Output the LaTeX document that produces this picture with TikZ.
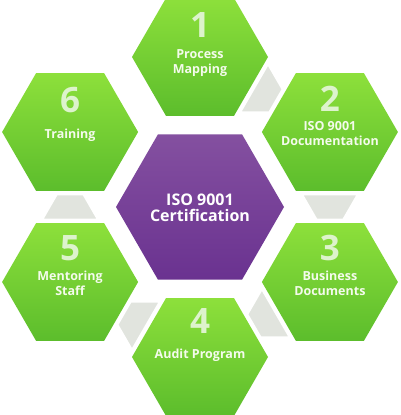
\documentclass[tikz,border=0pt]{standalone}
\usepackage{fontspec}
\setmainfont{Open Sans}
\usetikzlibrary{calc}
\definecolor{greenT}{HTML}{8DE03B}
\definecolor{greenB}{HTML}{5CBD2C}
\definecolor{purpT}{HTML}{8450A0}
\definecolor{purpB}{HTML}{6A3290}
\definecolor{grayC}{HTML}{E1E4DE}
\definecolor{numC}{HTML}{DDF3CC}
\definecolor{lblC}{HTML}{F4FBEC}
\newcommand\myhex[2]{($(#1)+(#2,0)$) -- ($(#1)+({0.5*#2},{0.8660254*#2})$) -- ($(#1)+({-0.5*#2},{0.8660254*#2})$) -- ($(#1)+(-#2,0)$) -- ($(#1)+({-0.5*#2},{-0.8660254*#2})$) -- ($(#1)+({0.5*#2},{-0.8660254*#2})$) -- cycle}
\tikzset{
  hexout/.style={top color=greenT,bottom color=greenB},
  hexmid/.style={top color=purpT,bottom color=purpB},
  conn/.style={fill=grayC,draw=white,line width=9pt,line join=miter},
  numtxt/.style={text=numC,font=\fontsize{35}{35}\selectfont\bfseries,anchor=base,inner sep=0pt},
  lbltxt/.style={text=lblC,font=\fontsize{12.5}{15}\selectfont\bfseries,anchor=base,inner sep=0pt},
  midtxt/.style={text=white,font=\fontsize{16}{16}\selectfont\bfseries,anchor=base,inner sep=0pt},
}
\begin{document}
\begin{tikzpicture}[x=1pt,y=-1pt]
\path[use as bounding box, clip] (0,0) rectangle (400,415);
\fill[white] (0,0) rectangle (400,415);
\coordinate (c0) at (200,207);
\coordinate (c1) at (200,57);
\coordinate (c2) at (329.9,132);
\coordinate (c3) at (329.9,282);
\coordinate (c4) at (200,357);
\coordinate (c5) at (70.1,282);
\coordinate (c6) at (70.1,132);
% grey links
\foreach \k in {0,...,4}{
  \begin{scope}[shift={(c0)},rotate={-60*\k}]
    \path[conn] (68,-150) -- (86.65,-117.7) -- (71.3,-91.11) -- (34,-91.11) -- cycle;
  \end{scope}
}
% hexagons
\foreach \c in {c1,c2,c3,c4,c5,c6}{
  \shade[hexout] \myhex{\c}{68};
}
\shade[hexmid] \myhex{c0}{84};
% texts
\node[numtxt] (n1) at ($(c1)+(0,-20)$) {1};
\node[lbltxt] (l1a) at ($(c1)+(0,1)$) {Process};
\node[lbltxt] (l1b) at ($(c1)+(0,16)$) {Mapping};
\node[numtxt] (n2) at ($(c2)+(0,-21)$) {2};
\node[lbltxt] (l2a) at ($(c2)+(0,-2)$) {ISO 9001};
\node[lbltxt] (l2b) at ($(c2)+(0,13)$) {Documentation};
\node[numtxt] (n3) at ($(c3)+(0,-22)$) {3};
\node[lbltxt] (l3a) at ($(c3)+(0,-2)$) {Business};
\node[lbltxt] (l3b) at ($(c3)+(0,13)$) {Documents};
\node[numtxt] (n4) at ($(c4)+(0,-24)$) {4};
\node[lbltxt] (l4a) at ($(c4)+(0,1)$) {Audit Program};
\node[numtxt] (n5) at ($(c5)+(0,-22)$) {5};
\node[lbltxt] (l5a) at ($(c5)+(0,-2)$) {Mentoring};
\node[lbltxt] (l5b) at ($(c5)+(0,13)$) {Staff};
\node[numtxt] (n6) at ($(c6)+(0,-20)$) {6};
\node[lbltxt] (l6a) at ($(c6)+(0,6)$) {Training};
\node[midtxt] (m1) at ($(c0)+(0,-2)$) {ISO 9001};
\node[midtxt] (m2) at ($(c0)+(0,14)$) {Certification};
\end{tikzpicture}
\end{document}
